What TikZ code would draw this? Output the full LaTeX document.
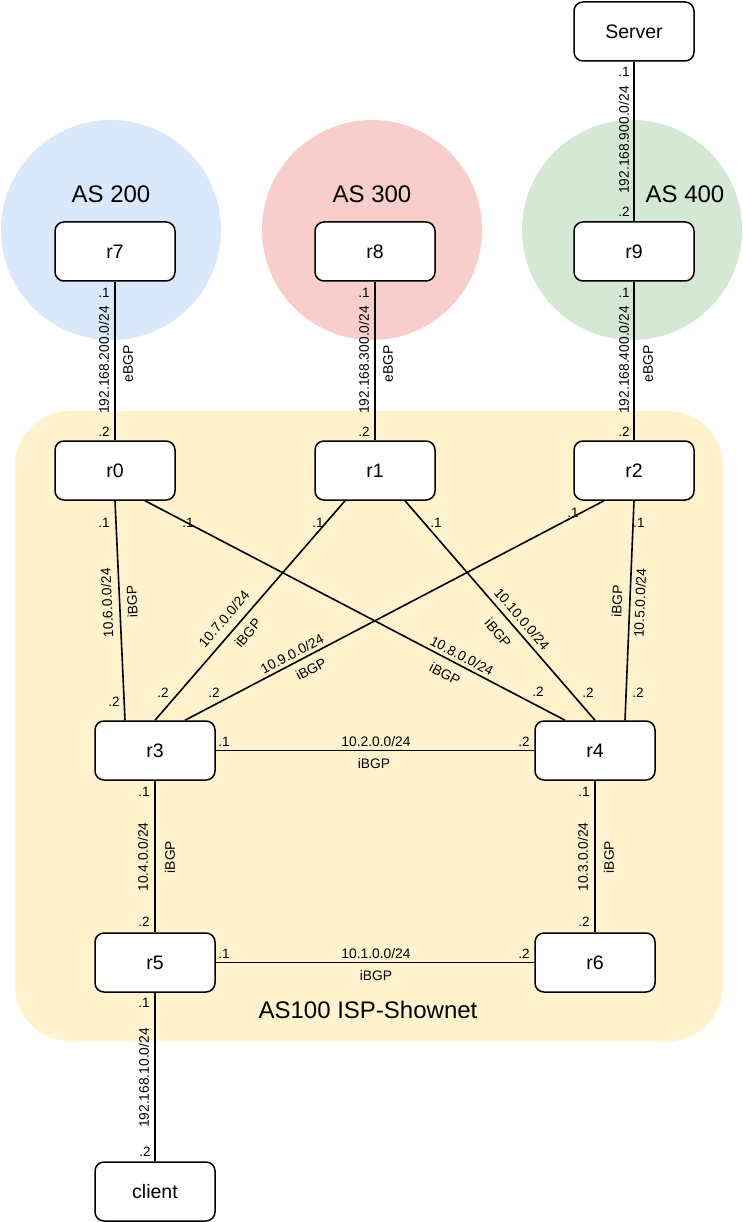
\documentclass[tikz,border=0pt]{standalone}
\usepackage{fontspec}
\setmainfont{Liberation Sans}
\usetikzlibrary{calc}

\definecolor{asblue}{HTML}{DAE8FC}
\definecolor{asred}{HTML}{F8CECC}
\definecolor{asgreen}{HTML}{D5E8D4}
\definecolor{asyellow}{HTML}{FFF2CC}

\tikzset{
  router/.style={draw, line width=1.5pt, fill=white, rounded corners=9pt,
    minimum width=120pt, minimum height=59pt, inner sep=0pt,
    font=\fontsize{19.5}{22}\selectfont},
  link/.style={line width=1.6pt},
  lbl/.style={font=\fontsize{13.8}{15}\selectfont, inner sep=0pt},
  port/.style={font=\fontsize{13.5}{15}\selectfont, inner sep=0pt},
  astitle/.style={font=\fontsize{24}{28}\selectfont, inner sep=0pt},
}

\begin{document}
\begin{tikzpicture}[x=1pt,y=-1pt]
  % canvas
  \fill[white] (0,0) rectangle (742,1222);
  \useasboundingbox (0,0) rectangle (742,1222);

  % autonomous systems
  \fill[asblue]  (111,230) circle (110);
  \fill[asred]   (372,230) circle (110);
  \fill[asgreen] (632,230) circle (110);
  \fill[asyellow, rounded corners=55pt] (15,411) rectangle (723,1041);

  \node[astitle] (as200) at (111,194) {AS 200};
  \node[astitle] (as300) at (372,194) {AS 300};
  \node[astitle] (as400) at (685,194) {AS 400};
  \node[astitle] (as100) at (368,1010) {AS100 ISP-Shownet};

  % routers and hosts
  \node[router] (server) at (634,31.5)   {Server};
  \node[router] (r7)     at (115,251.5)  {r7};
  \node[router] (r8)     at (375,251.5)  {r8};
  \node[router] (r9)     at (634,251.5)  {r9};
  \node[router] (r0)     at (115,470.5)  {r0};
  \node[router] (r1)     at (375,470.5)  {r1};
  \node[router] (r2)     at (634,470.5)  {r2};
  \node[router] (r3)     at (155,750.5)  {r3};
  \node[router] (r4)     at (595,750.5)  {r4};
  \node[router] (r5)     at (155,962.5)  {r5};
  \node[router] (r6)     at (595,962.5)  {r6};
  \node[router] (client) at (155,1191.5) {client};

  % eBGP uplinks
  \draw[link] (server.south) -- (r9.north);
  \draw[link] (r7.south) -- (r0.north);
  \draw[link] (r8.south) -- (r1.north);
  \draw[link] (r9.south) -- (r2.north);

  % iBGP mesh
  \draw[link] (r0.south) -- ([xshift=-30]r3.north);
  \draw[link] ([xshift=30]r0.south) -- ([xshift=-30]r4.north);
  \draw[link] ([xshift=-30]r1.south) -- (r3.north);
  \draw[link] ([xshift=30]r1.south) -- (r4.north);
  \draw[link] ([xshift=-30]r2.south) -- ([xshift=30]r3.north);
  \draw[link] (r2.south) -- ([xshift=30]r4.north);
  \draw[link] (r3.east) -- (r4.west);
  \draw[link] (r3.south) -- (r5.north);
  \draw[link] (r4.south) -- (r6.north);
  \draw[link] (r5.east) -- (r6.west);
  \draw[link] (r5.south) -- (client.north);

  % Server -- r9
  \node[port] at (624,72)  {.1};
  \node[lbl, rotate=90] at (624,140) {192.168.900.0/24};
  \node[port] at (624,212) {.2};

  % r7 -- r0
  \node[port] at (104,293) {.1};
  \node[lbl, rotate=90] at (104,360) {192.168.200.0/24};
  \node[lbl, rotate=90] at (128,364) {eBGP};
  \node[port] at (104,432) {.2};

  % r8 -- r1
  \node[port] at (364,293) {.1};
  \node[lbl, rotate=90] at (364,360) {192.168.300.0/24};
  \node[lbl, rotate=90] at (388,364) {eBGP};
  \node[port] at (364,432) {.2};

  % r9 -- r2
  \node[port] at (624,293) {.1};
  \node[lbl, rotate=90] at (624,360) {192.168.400.0/24};
  \node[lbl, rotate=90] at (648,364) {eBGP};
  \node[port] at (624,432) {.2};

  % r0 -- r3
  \node[port] at (104,523) {.1};
  \node[lbl, rotate=92.6] at (107,603) {10.6.0.0/24};
  \node[lbl, rotate=92.6] at (132,602) {iBGP};
  \node[port] at (114,702) {.2};

  % r0 -- r4
  \node[port] at (188,523) {.1};
  \node[lbl, rotate=-27.8] at (462,656) {10.8.0.0/24};
  \node[lbl, rotate=-27.8] at (445,674) {iBGP};
  \node[port] at (538,692) {.2};

  % r1 -- r3
  \node[port] at (318,523) {.1};
  \node[lbl, rotate=49.3] at (224,619) {10.7.0.0/24};
  \node[lbl, rotate=49.3] at (248,633) {iBGP};
  \node[port] at (163,693) {.2};

  % r1 -- r4
  \node[port] at (436,523) {.1};
  \node[lbl, rotate=-49.5] at (522,619) {10.10.0.0/24};
  \node[lbl, rotate=-49.5] at (498,633) {iBGP};
  \node[port] at (588,693) {.2};

  % r2 -- r3
  \node[port] at (573,513) {.1};
  \node[lbl, rotate=27.8] at (292,654) {10.9.0.0/24};
  \node[lbl, rotate=27.8] at (311,669) {iBGP};
  \node[port] at (214,693) {.2};

  % r2 -- r4
  \node[port] at (639,523) {.1};
  \node[lbl, rotate=87.7] at (640,603) {10.5.0.0/24};
  \node[lbl, rotate=87.7] at (617,601) {iBGP};
  \node[port] at (638,693) {.2};

  % r3 -- r4
  \node[port] at (224,742) {.1};
  \node[lbl] at (376,742) {10.2.0.0/24};
  \node[lbl] at (374,764) {iBGP};
  \node[port] at (524,742) {.2};

  % r3 -- r5
  \node[port] at (144,792) {.1};
  \node[lbl, rotate=90] at (143,857) {10.4.0.0/24};
  \node[lbl, rotate=90] at (170,857) {iBGP};
  \node[port] at (144,922) {.2};

  % r4 -- r6
  \node[port] at (584,792) {.1};
  \node[lbl, rotate=90] at (583,857) {10.3.0.0/24};
  \node[lbl, rotate=90] at (609,857) {iBGP};
  \node[port] at (584,922) {.2};

  % r5 -- r6
  \node[port] at (224,954) {.1};
  \node[lbl] at (376,954) {10.1.0.0/24};
  \node[lbl] at (376,976) {iBGP};
  \node[port] at (524,954) {.2};

  % r5 -- client
  \node[port] at (144,1003) {.1};
  \node[lbl, rotate=90] at (144,1078) {192.168.10.0/24};
  \node[port] at (145,1152) {.2};
\end{tikzpicture}
\end{document}
